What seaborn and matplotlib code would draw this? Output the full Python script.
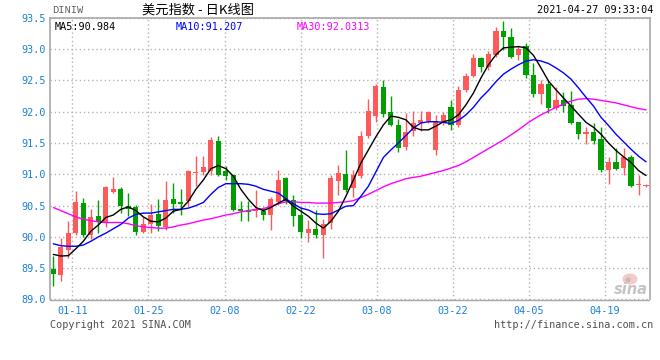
import numpy as np
import pandas as pd
import matplotlib
matplotlib.use("Agg")
import matplotlib.pyplot as plt
from matplotlib.patches import Ellipse
import seaborn as sns

# ---------------- data ----------------
opens = [89.49, 89.39, 89.79, 90.06, 90.548, 90.037, 90.34, 90.24, 90.723, 90.766,
         90.495, 90.484, 90.085, 90.207, 90.367, 90.154, 90.612, 90.553, 90.569, 91.027,
         91.032, 91.058, 91.537, 91.048, 90.984, 90.452, 90.436, 90.414, 90.414, 90.35,
         90.562, 90.936, 90.585, 90.35, 90.067, 90.12, 90.03, 90.22, 90.895, 91.011,
         90.782, 90.968, 91.617, 91.936, 92.394, 91.989, 91.793, 91.436, 91.686, 91.819,
         91.856, 91.39, 91.82, 92.08, 91.79, 92.34, 92.57, 92.86, 92.72, 92.91,
         93.29, 93.20, 92.90, 93.05, 92.58, 92.277, 92.436, 92.058, 92.19, 92.10,
         91.835, 91.649, 91.676, 91.569, 91.064, 91.197, 91.101, 91.277, 90.83, 90.815]
highs = [89.70, 89.98, 90.255, 90.734, 90.617, 90.447, 90.59, 90.81, 90.963, 90.803,
         90.707, 90.51, 90.324, 90.527, 90.606, 90.894, 90.862, 90.766, 91.074, 91.287,
         91.287, 91.596, 91.606, 91.128, 90.99, 90.569, 90.569, 90.749, 90.47, 90.642,
         91.069, 90.95, 90.676, 90.48, 90.27, 90.43, 90.29, 90.99, 91.15, 91.394,
         91.074, 91.686, 92.202, 92.447, 92.51, 92.255, 91.883, 91.979, 92.005, 92.005,
         92.005, 91.95, 92.0, 92.18, 92.415, 92.62, 92.92, 92.88, 92.97, 93.36,
         93.45, 93.33, 93.05, 93.10, 92.78, 92.5, 92.49, 92.394, 92.31, 92.324,
         91.84, 91.755, 91.819, 91.755, 91.277, 91.426, 91.426, 91.303, 90.984, 90.84]
lows = [89.21, 89.29, 89.66, 90.03, 89.995, 89.963, 90.06, 90.165, 90.707, 90.388,
        90.335, 90.037, 90.06, 90.069, 90.096, 90.112, 90.383, 90.356, 90.489, 90.809,
        90.995, 90.984, 90.97, 90.904, 90.41, 90.25, 90.25, 90.323, 90.262, 90.11,
        90.51, 90.53, 90.17, 89.99, 89.925, 89.98, 89.67, 90.12, 90.67, 90.713,
        90.638, 90.941, 91.58, 91.83, 91.915, 91.766, 91.351, 91.394, 91.606, 91.686,
        91.82, 91.31, 91.79, 91.70, 91.75, 92.31, 92.55, 92.64, 92.67, 92.88,
        92.99, 92.85, 92.83, 92.54, 92.24, 92.128, 91.98, 92.02, 91.995, 91.798,
        91.559, 91.49, 91.49, 91.037, 90.84, 91.064, 90.984, 90.80, 90.665, 90.80]
closes = [89.415, 89.835, 90.064, 90.564, 90.032, 90.319, 90.239, 90.803, 90.766, 90.495,
          90.452, 90.074, 90.207, 90.351, 90.176, 90.59, 90.532, 90.521, 91.048, 91.043,
          91.122, 91.553, 90.984, 90.968, 90.436, 90.42, 90.399, 90.441, 90.35, 90.602,
          90.909, 90.573, 90.33, 90.085, 90.121, 90.03, 90.21, 90.94, 91.02, 90.755,
          90.995, 91.617, 92.005, 92.415, 91.968, 91.793, 91.42, 91.67, 91.819, 91.872,
          91.99, 91.85, 91.95, 91.79, 92.35, 92.57, 92.85, 92.72, 92.92, 93.29,
          93.20, 92.88, 93.0, 92.58, 92.29, 92.436, 92.058, 92.18, 92.085, 91.819,
          91.638, 91.676, 91.532, 91.064, 91.197, 91.09, 91.277, 90.809, 90.84, 90.83]
ma5 = [89.72, 89.695, 89.70, 89.81, 89.93, 90.09, 90.19, 90.31, 90.35, 90.44,
       90.48, 90.42, 90.32, 90.25, 90.24, 90.30, 90.41, 90.44, 90.57, 90.76,
       90.91, 91.09, 91.14, 91.09, 90.97, 90.76, 90.60, 90.47, 90.42, 90.47,
       90.54, 90.60, 90.49, 90.41, 90.33, 90.22, 90.14, 90.25, 90.41, 90.65,
       90.91, 91.18, 91.39, 91.60, 91.79, 91.93, 91.91, 91.87, 91.75, 91.71,
       91.71, 91.77, 91.84, 91.87, 91.95, 92.11, 92.30, 92.54, 92.75, 92.91,
       93.02, 93.03, 93.04, 93.02, 92.90, 92.70, 92.49, 92.35, 92.22, 92.09,
       91.96, 91.83, 91.75, 91.64, 91.50, 91.38, 91.28, 91.19, 91.06, 90.98]
ma10 = [89.89, 89.86, 89.85, 89.85, 89.87, 89.93, 90.00, 90.06, 90.13, 90.20,
        90.30, 90.36, 90.38, 90.38, 90.40, 90.42, 90.44, 90.44, 90.46, 90.50,
        90.55, 90.68, 90.79, 90.85, 90.85, 90.85, 90.84, 90.81, 90.76, 90.73,
        90.70, 90.61, 90.53, 90.46, 90.43, 90.37, 90.36, 90.37, 90.43, 90.49,
        90.50, 90.65, 90.81, 91.04, 91.27, 91.39, 91.50, 91.62, 91.74, 91.82,
        91.84, 91.84, 91.83, 91.81, 91.86, 91.95, 92.07, 92.22, 92.34, 92.48,
        92.60, 92.68, 92.75, 92.81, 92.83, 92.81, 92.77, 92.70, 92.62, 92.52,
        92.38, 92.23, 92.09, 91.91, 91.78, 91.64, 91.52, 91.40, 91.29, 91.20]
ma30 = [90.47, 90.42, 90.37, 90.32, 90.28, 90.26, 90.24, 90.23, 90.23, 90.23,
        90.21, 90.18, 90.16, 90.15, 90.14, 90.14, 90.16, 90.19, 90.21, 90.24,
        90.27, 90.29, 90.32, 90.35, 90.37, 90.40, 90.42, 90.44, 90.45, 90.49,
        90.53, 90.56, 90.56, 90.55, 90.55, 90.54, 90.54, 90.54, 90.55, 90.56,
        90.58, 90.63, 90.68, 90.74, 90.80, 90.85, 90.89, 90.93, 90.95, 90.97,
        91.00, 91.03, 91.06, 91.10, 91.14, 91.20, 91.27, 91.34, 91.41, 91.48,
        91.55, 91.63, 91.71, 91.80, 91.88, 91.95, 92.01, 92.07, 92.12, 92.17,
        92.20, 92.21, 92.20, 92.18, 92.16, 92.14, 92.11, 92.08, 92.05, 92.03]
date_labels = ["01-11", "01-25", "02-08", "02-22", "03-08", "03-22", "04-05", "04-19"]
y_ticks = [89.0, 89.5, 90.0, 90.5, 91.0, 91.5, 92.0, 92.5, 93.0, 93.5]

# ---------------- style ----------------
sns.set_theme(style="white")
plt.rcParams['font.family'] = ['DejaVu Sans Mono', 'Noto Sans CJK SC', 'DejaVu Sans']

BLUE_TXT = "#1c80d6"
RED = "#ff5a5a"
GREEN = "#009e00"
W, H = 660, 360
L, R, T, B = 50, 650, 17.8, 299.5

fig = plt.figure(figsize=(W / 100, H / 100), dpi=100)
fig.patch.set_facecolor("white")
ax = fig.add_axes([L / W, 1 - B / H, (R - L) / W, (B - T) / H])
ax.set_facecolor("white")

df = pd.DataFrame({"open": opens, "high": highs, "low": lows, "close": closes,
                   "ma5": ma5, "ma10": ma10, "ma30": ma30})
df["i"] = np.arange(len(df))
up = df["close"] >= df["open"]
colors = np.where(up, RED, GREEN)

ax.vlines(df["i"], df["low"], df["high"], colors=colors, lw=1.0, zorder=2)
body_bottom = np.minimum(df["open"], df["close"])
body_h = np.maximum((df["close"] - df["open"]).abs(), 0.014)
ax.bar(df["i"], body_h, bottom=body_bottom, width=0.68, color=colors,
       linewidth=0, zorder=3)

sns.lineplot(data=df, x="i", y="ma30", color="#ff00ff", lw=1.0, ax=ax, zorder=4)
sns.lineplot(data=df, x="i", y="ma10", color="#0000ff", lw=1.0, ax=ax, zorder=5)
sns.lineplot(data=df, x="i", y="ma5", color="black", lw=1.0, ax=ax, zorder=6)

ax.set_xlim(-0.44, 79.53)
ax.set_ylim(89.0, 93.5)
ax.set_xlabel("")
ax.set_ylabel("")

tick_pos = [2.55 + 10.135 * k for k in range(len(date_labels))]
ax.set_xticks(tick_pos)
ax.set_xticklabels(date_labels)
ax.set_yticks(y_ticks)
ax.set_yticklabels([f"{v:.1f}" for v in y_ticks])
ax.tick_params(axis="both", length=0, labelsize=7.3, labelcolor=BLUE_TXT)
ax.tick_params(axis="y", pad=3)
ax.tick_params(axis="x", pad=5)

ax.set_axisbelow(True)
ax.grid(True, color="#b4b4b4", linestyle=(0, (1, 2)), lw=1.0)
for name, s in ax.spines.items():
    s.set_visible(True)
    s.set_color("#a8a8a8")
    s.set_linewidth(1.2)
ax.spines["bottom"].set_linestyle((0, (1, 1)))
ax.spines["bottom"].set_linewidth(1.0)


def ftext(px, py, s, **kw):
    fig.text(px / W, 1 - py / H, s, **kw)


ftext(52, 10, "DINIW", fontsize=7.5, color="#606060", va="center", ha="left",
      family=["Liberation Mono", "DejaVu Sans Mono"])
ftext(142, 10, "美元指数 - 日K线图", fontsize=9.5, color="black", va="center",
      ha="left", family=["Noto Sans CJK SC", "DejaVu Sans"])
ftext(653, 10, "2021-04-27 09:33:04", fontsize=7.3, color="black", va="center", ha="right")
ftext(55, 27, "MA5:90.984", fontsize=7.3, color="black", va="center", ha="left")
ftext(176, 27, "MA10:91.207", fontsize=7.3, color="#0000ff", va="center", ha="left")
ftext(297, 27, "MA30:92.0313", fontsize=7.3, color="#ff00ff", va="center", ha="left")
ftext(50, 325, "Copyright 2021 SINA.COM", fontsize=7.3, color="#505050", va="center", ha="left")
ftext(653, 325, "http://finance.sina.com.cn", fontsize=7.3, color="#505050", va="center", ha="right")

# faint sina watermark (logo eye + word)
fig.patches.append(Ellipse((630 / W, 1 - 279 / H), 15 / W, 11 / H,
                           transform=fig.transFigure, facecolor="#f6c8c8",
                           edgecolor="none", zorder=1))
fig.patches.append(Ellipse((628 / W, 1 - 280 / H), 5 / W, 5 / H,
                           transform=fig.transFigure, facecolor="#bdbdbd",
                           edgecolor="none", zorder=1))
ftext(631, 290, "sina", fontsize=10.5, color="#c4c4c4", va="center", ha="center",
      style="italic", weight="bold", family=["DejaVu Sans"])

fig.savefig("out.png", dpi=100, facecolor="white")
